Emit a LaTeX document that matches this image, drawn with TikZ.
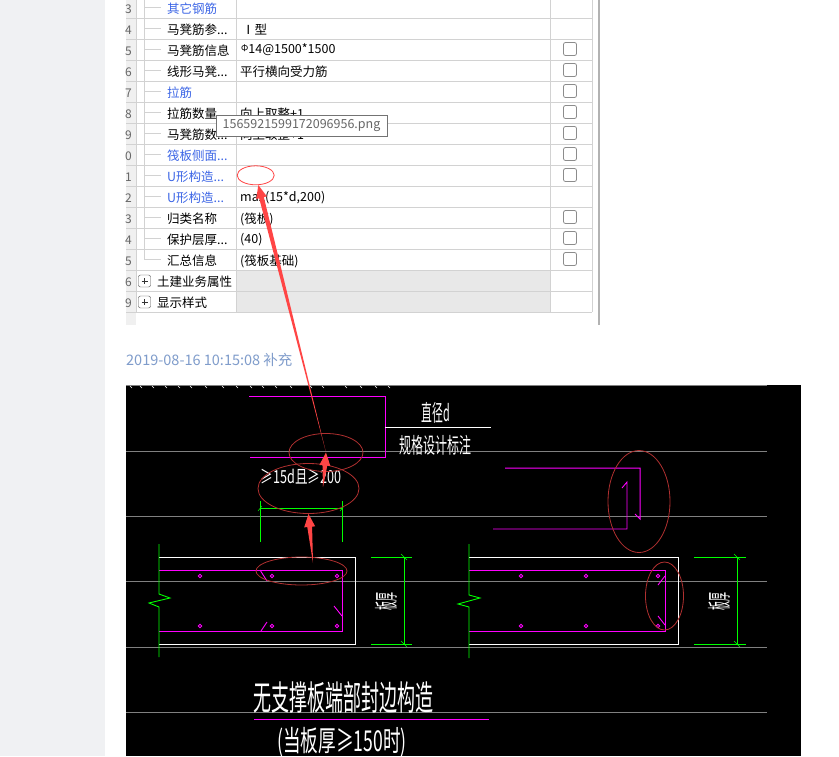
\documentclass[tikz,border=0pt]{standalone}
\usepackage{fontspec}
\setmainfont{Noto Sans CJK SC}
\usetikzlibrary{calc,shapes.geometric}
\definecolor{gridgray}{HTML}{D2D2D2}
\definecolor{linkblue}{HTML}{3D66E6}
\definecolor{cadgray}{HTML}{808080}
\definecolor{cadpink}{HTML}{FF00FF}
\definecolor{cadgreen}{HTML}{00FF00}
\definecolor{ringred}{HTML}{B03030}
\definecolor{arrowred}{HTML}{FF4545}
\definecolor{stampblue}{HTML}{7F9CCB}
\definecolor{pagegray}{HTML}{F0F1F3}
\newcommand{\px}[1]{\fontsize{#1}{#1}\selectfont}
\newcommand{\dd}{...}
\newcommand{\redarrow}[2]{
\coordinate (base) at ($(#2)!13pt!(#1)$);
\fill[arrowred] (#1) -- ($(base)!2.4pt!90:(#2)$) -- ($(base)!5.5pt!90:(#2)$) -- (#2) -- ($(base)!5.5pt!-90:(#2)$) -- ($(base)!2.4pt!-90:(#2)$) -- cycle;
}
\tikzset{
  cell/.style={anchor=west,inner sep=0pt,font=\px{12.5}},
  cad/.style={text=white,inner sep=0pt},
  ring/.style={draw=ringred,line width=.8pt,ellipse,inner sep=0pt},
  pink/.style={draw=cadpink,line width=1pt},
  dimline/.style={draw=cadgreen,line width=.9pt},
  rebar/.style={draw=cadpink,line width=.9pt}
}
\begin{document}
\begin{tikzpicture}[x=1pt,y=-1pt]
\useasboundingbox (0,0) rectangle (839,756);
\fill[white] (0,0) rectangle (839,756);
\fill[pagegray] (0,0) rectangle (105,756);
% table
\fill[black!6] (126,0) rectangle (136,325);
\fill[black!9] (237,270) rectangle (550,312);
\foreach \y in {18,39,...,312} \draw[gridgray] (126,\y) -- (592,\y);
\foreach \x in {136,236,550,592} \draw[gridgray] (\x,0) -- (\x,312);
\draw[black!30,line width=2pt] (599,0) -- (599,325);
\draw[gridgray] (144,0) -- (144,259);
\foreach \y in {8,29,...,260} \draw[gridgray] (144,\y-.5) -- (161,\y-.5);
\foreach \y/\n in {9/3,30/4,51/5,72/6,93/7,114/8,135/9,156/0,177/1,198/2,219/3,240/4,261/5,282/6,303/9}
  \node[anchor=east,inner sep=0pt,text=black!60,font=\px{12}] at (132,\y) {\n};
\foreach \y/\t in {9/其它钢筋,93/拉筋,156/筏板侧面\dd,177/U形构造\dd,198/U形构造\dd}
  \node[cell,text=linkblue] at (167,\y) {\t};
\foreach \y/\t in {30/马凳筋参\dd,51/马凳筋信息,72/线形马凳\dd,114/拉筋数量,135/马凳筋数\dd,219/归类名称,240/保护层厚\dd,261/汇总信息}
  \node[cell] at (167,\y) {\t};
\node[cell] at (242,30) {Ⅰ型};
\node[cell] at (241,50) {\raisebox{2pt}{\px{9}Φ}14@1500*1500};
\node[cell] at (240,72) {平行横向受力筋};
\node[cell] at (240,114) {向上取整+1};
\node[cell] at (240,135) {向上取整+1};
\node[cell] at (240,198) {max(15*d,200)};
\node[cell] at (240,219) {(筏板)};
\node[cell] at (240,240) {(40)};
\node[cell] at (240,261) {(筏板基础)};
\foreach \y in {49,70,91,112,133,154,175,217,238,259}
  \draw[black!45,line width=.8pt,rounded corners=2pt] (563.5,\y-6.5) rectangle +(13,13);
\foreach \y/\t in {282/土建业务属性,303/显示样式}{
  \draw[black!70,rounded corners=2pt] (138.5,\y-7) rectangle +(12,12);
  \draw[black!80] (141.5,\y-1) -- (147.5,\y-1) (144.5,\y-4) -- (144.5,\y+2);
  \node[cell] at (157,\y) {\t};
}
\node[draw=black!55,fill=white,text=black!60,inner sep=0pt,minimum width=171pt,minimum height=21pt,font=\px{12.5}] (filename) at (301.5,126) {1565921599172096956.png};
\node[anchor=west,inner sep=0pt,text=stampblue,font=\px{14.5}] (stamp) at (126,360) {2019-08-16 10:15:08 补充};
% drawing
\fill[black] (126,385) rectangle (801,756);
\foreach \y in {385,451,516,581,647,712} \draw[cadgray] (126,\y) -- (767,\y);
\foreach \x in {130,140,152,165,178,190,205,222,236,250,262,275,290,310,322,345,360,375,388}
  \draw[white,line width=.5pt] (\x,386) -- (\x+2,388);
% top bars
\draw[pink] (249,396) -- (385,396) -- (385,457) -- (250,457);
\draw[white,line width=.9pt] (385,427) -- (491,427);
\node[cad,font=\px{12},xscale=.9,yscale=1.9] (diameter) at (436,413) {直径d};
\node[cad,font=\px{12},yscale=1.8] (note) at (435,445) {规格设计标注};
\node[cad,font=\px{12},xscale=1.05,yscale=1.5] (length) at (301,477) {≥15d且≥200};
\draw[dimline] (260,501) -- (260,542) (342,501) -- (342,542) (260,508) -- (342,508);
\draw[dimline,line width=.5pt] (258,511) -- (262,506) (340,511) -- (344,506);
\draw[pink] (505,468) -- (640,468) -- (640,519) -- (635,514);
\draw[rebar] (493,529) -- (627,529) -- (627,482) -- (622,488);
% left section
\draw[white,line width=.9pt] (159,557) -- (355,557) -- (355,644) -- (159,644);
\draw[rebar] (159,570) -- (342,570) -- (342,631) -- (159,631);
\draw[dimline] (159,544) -- (159,594) -- (170,598) -- (149,603) -- (159,607) -- (159,657);
\foreach \x in {200,272,337} \foreach \y in {576,626} \draw[rebar] (\x,\y) circle (1.8pt);
\draw[rebar] (260,570) -- (267,581) (261,631) -- (267,622) (334,606) -- (342,616);
\draw[dimline] (371,557) -- (412,557) (371,644) -- (412,644) (404,557) -- (404,644);
\draw[dimline,line width=.5pt] (401,554) -- (407,560) (401,641) -- (407,647);
\node[cad,font=\px{10},rotate=90,xscale=.9,yscale=2.4] (thickleft) at (386,601) {板厚};
% right section
\draw[white,line width=.9pt] (469,557) -- (678,557) -- (678,644) -- (469,644);
\draw[rebar] (469,570) -- (665,570) -- (665,631) -- (469,631);
\draw[dimline] (469,544) -- (469,595) -- (480,598) -- (458,604) -- (469,607) -- (469,658);
\foreach \x in {521,586,658} \foreach \y in {576,626} \draw[rebar] (\x,\y) circle (1.8pt);
\draw[rebar] (665,576) -- (658,585) (658,616) -- (665,625);
\draw[dimline] (694,557) -- (746,557) (694,644) -- (746,644) (737,557) -- (737,644);
\draw[dimline,line width=.5pt] (734,554) -- (740,560) (734,641) -- (740,647);
\node[cad,font=\px{10},rotate=90,xscale=.9,yscale=2.4] (thickright) at (719,601) {板厚};
% title
\node[cad,font=\px{18},yscale=1.9] (title) at (343,697) {无支撑板端部封边构造};
\draw[rebar] (254,719) -- (489,719);
\node[cad,font=\px{16},xscale=1.1,yscale=1.8] (subtitle) at (342,742) {(当板厚≥150时)};
% rings
\node[ring,minimum width=74pt,minimum height=38pt] (topring) at (326,452.5) {};
\node[ring,minimum width=101pt,minimum height=50pt] (midring) at (308.5,488.5) {};
\node[ring,minimum width=91pt,minimum height=28pt] (lowring) at (301.5,571) {};
\node[ring,minimum width=62pt,minimum height=102pt] (hookring) at (639,501.5) {};
\node[ring,minimum width=38pt,minimum height=68pt] (endring) at (664.5,596) {};
\node[ring,draw=arrowred,minimum width=37pt,minimum height=19pt] (cellring) at (255.7,175.3) {};
% arrows
\coordinate (lowtail) at (313,563);
\coordinate (midtail) at (323,487);
\redarrow{lowtail}{midring.south}
\redarrow{midtail}{topring.center}
\redarrow{topring.center}{cellring.-75}
\end{tikzpicture}
\end{document}
